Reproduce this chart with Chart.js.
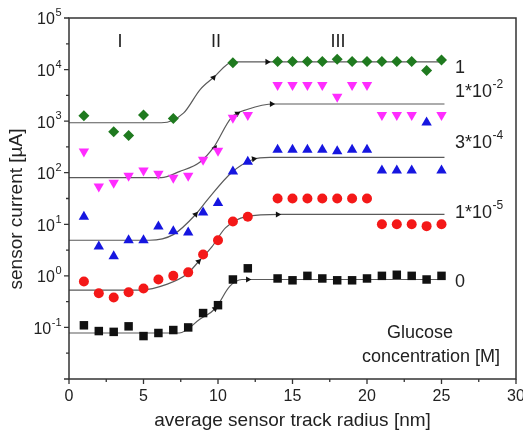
<!DOCTYPE html>
<html>
<head>
<meta charset="utf-8">
<script src="https://cdn.jsdelivr.net/npm/chart.js@4.4.1/dist/chart.umd.min.js"></script>
<style>
  body { margin: 0; background: #fff; }
  #c { display: block; }
</style>
</head>
<body>
<canvas id="c" width="523" height="434"></canvas>
<script>
// track radius [nm], one entry per measured point (13 was not measured)
var radius = [1, 2, 3, 4, 5, 6, 7, 8, 9, 10, 11, 12, 13, 14, 15, 16, 17, 18, 19, 20, 21, 22, 23, 24, 25];

// sensor current [uA] for each glucose concentration
var conc1 = [1270, null, 624, 525, 1320, null, 1120, null, null, null, 13500, null, null,
    14300, 14300, 14300, 14300, 15900, 14300, 14300, 14300, 14300, 14300, 9550, 15400];
var conc1e2 = [257, 54, 64, 87, 110, 95, 80, 87, 178, 267, 1170, 1320, null,
    5000, 5000, 5000, 5000, 2960, 5000, 5000, 1320, 1320, 1320, null, 1320];
var conc3e4 = [14, 3.7, 2.4, 4.9, 4.9, 9.1, 7.3, 6.9, 17, 26, 105, 163, null,
    280, 280, 280, 280, 260, 280, 280, 110, 110, 110, 940, 110];
var conc1e5 = [0.78, 0.46, 0.38, 0.48, 0.57, 0.85, 1.0, 1.17, 2.6, 4.9, 11.3, 14, null,
    31.6, 31.6, 31.6, 31.6, 31.6, 31.6, 31.6, 10, 10, 10, 9.2, 10];
var conc0 = [0.11, 0.085, 0.082, 0.105, 0.068, 0.078, 0.089, 0.10, 0.19, 0.27, 0.85, 1.4, null,
    0.89, 0.82, 1.0, 0.89, 0.82, 0.82, 0.89, 1.0, 1.05, 1.0, 0.85, 1.0];

// guide curves
var fit1X = [0, 6.2, 7.7, 8.8, 9.7, 11.0, 25.2];
var fit1Y = [930, 930, 1450, 4100, 7000, 14100, 14100];
var fit1e2X = [0, 6.2, 7.4, 8.8, 9.7, 10.9, 12.0, 13.8, 25.2];
var fit1e2Y = [80, 80, 105, 162, 309, 1175, 1700, 2150, 2150];
var fit3e4X = [0, 5.4, 7.0, 8.5, 9.3, 10.9, 12.3, 13.5, 25.2];
var fit3e4Y = [4.9, 4.9, 6.3, 15.5, 30, 100, 178, 198, 198];
var fit1e5X = [0, 4.8, 6.6, 7.9, 8.7, 9.6, 10.5, 11.9, 14.2, 25.2];
var fit1e5Y = [0.53, 0.53, 0.69, 1.07, 1.9, 3.7, 8.5, 14.1, 15.5, 15.5];
var fit0X = [0, 7.4, 8.8, 9.8, 10.8, 11.6, 25.2];
var fit0Y = [0.078, 0.078, 0.145, 0.23, 0.63, 0.85, 0.85];

// little arrow heads along the curves: x, y, direction in degrees
var arrowX = [9.7, 13.3, 9.8, 11.3, 13.6, 8.5, 12.4, 8.7, 14.0, 9.8, 12.0];
var arrowY = [7000, 14100, 300, 1400, 2150, 15.5, 185, 1.9, 15.5, 0.23, 0.85];
var arrowDir = [40, 90, 30, 60, 90, 40, 80, 45, 90, 50, 90];

var xTicks = [0, 5, 10, 15, 20, 25, 30];
var yExps = [5, 4, 3, 2, 1, 0, -1];

var concLabels = [
    {base: '1', exp: '', y: 68},
    {base: '1*10', exp: '-2', y: 92},
    {base: '3*10', exp: '-4', y: 143},
    {base: '1*10', exp: '-5', y: 213},
    {base: '0', exp: '', y: 282}
];

function pts(xs, ys) {
    var out = [];
    for (var i = 0; i < xs.length; i++) {
        if (ys[i] !== null) {
            out.push({x: xs[i], y: ys[i]});
        }
    }
    return out;
}

function markers(ys, style, color, r, rot) {
    return {
        data: pts(radius, ys),
        pointStyle: style,
        pointRadius: r,
        pointRotation: rot || 0,
        backgroundColor: color,
        borderColor: color,
        borderWidth: 0,
        showLine: false
    };
}

function fit(xs, ys) {
    return {
        type: 'line',
        data: pts(xs, ys),
        borderColor: '#5a5a5a',
        borderWidth: 1.2,
        pointRadius: 0,
        cubicInterpolationMode: 'monotone',
        fill: false
    };
}

var FONT = '"Liberation Sans", Arial, sans-serif';

function drawPow(ctx, base, exp, x, y, align, size, expSize) {
    ctx.font = size + 'px ' + FONT;
    var wb = ctx.measureText(base).width;
    ctx.font = expSize + 'px ' + FONT;
    var we = exp ? ctx.measureText(exp).width : 0;
    var left = align === 'right' ? x - wb - we : x;
    ctx.textAlign = 'left';
    ctx.textBaseline = 'middle';
    ctx.font = size + 'px ' + FONT;
    ctx.fillText(base, left, y);
    if (exp) {
        ctx.font = expSize + 'px ' + FONT;
        ctx.fillText(exp, left + wb + 0.5, y - size * 0.42);
    }
}

var framePlugin = {
    id: 'frame',
    afterDraw: function (chart) {
        var ctx = chart.ctx;
        var a = chart.chartArea;
        var xs = chart.scales.x;
        var ys = chart.scales.y;
        ctx.save();

        // box
        ctx.strokeStyle = '#333';
        ctx.lineWidth = 1.5;
        ctx.strokeRect(a.left, a.top, a.right - a.left, a.bottom - a.top);

        // x ticks
        ctx.lineWidth = 1.3;
        ctx.beginPath();
        for (var v = 0; v <= 30; v += 2.5) {
            var px = xs.getPixelForValue(v);
            var len = (v % 5 === 0) ? 5 : 3;
            ctx.moveTo(px, a.bottom);
            ctx.lineTo(px, a.bottom + len);
        }
        // y ticks
        for (var e = -2; e <= 5; e++) {
            var py = ys.getPixelForValue(Math.pow(10, e));
            ctx.moveTo(a.left, py);
            ctx.lineTo(a.left - 5, py);
            if (e < 5) {
                var pm = ys.getPixelForValue(Math.pow(10, e + 0.5));
                ctx.moveTo(a.left, pm);
                ctx.lineTo(a.left - 3, pm);
            }
        }
        ctx.stroke();

        ctx.fillStyle = '#222';
        ctx.textAlign = 'center';
        ctx.textBaseline = 'middle';
        ctx.font = '16px ' + FONT;
        xTicks.forEach(function (t) {
            ctx.fillText(String(t), xs.getPixelForValue(t), a.bottom + 18);
        });

        yExps.forEach(function (e) {
            drawPow(ctx, '10', String(e), a.left - 8, ys.getPixelForValue(Math.pow(10, e)) + 2, 'right', 16, 11);
        });

        // axis titles
        ctx.textAlign = 'center';
        ctx.font = '19px ' + FONT;
        ctx.fillText('average sensor track radius [nm]', (a.left + a.right) / 2, 421);
        ctx.save();
        ctx.translate(17, 209);
        ctx.rotate(-Math.PI / 2);
        ctx.fillText('sensor current [\u00b5A]', 0, 0);
        ctx.restore();

        // regions
        ctx.font = '18px ' + FONT;
        ctx.fillText('I', 120, 42);
        ctx.fillText('II', 216, 42);
        ctx.fillText('III', 338, 42);

        // concentrations
        concLabels.forEach(function (l) {
            drawPow(ctx, l.base, l.exp, 455, l.y, 'left', 18, 12);
        });

        ctx.textAlign = 'center';
        ctx.font = '18px ' + FONT;
        ctx.fillText('Glucose', 420, 333);
        ctx.fillText('concentration [M]', 431, 357);

        ctx.restore();
    }
};

var arrowPts = pts(arrowX, arrowY);

new Chart(document.getElementById('c').getContext('2d'), {
    type: 'scatter',
    data: {
        datasets: [
            markers(conc1, 'rectRot', '#1f7a1f', 5.5),
            markers(conc1e2, 'triangle', '#ff2cff', 6, 180),
            markers(conc3e4, 'triangle', '#1616e0', 6),
            markers(conc1e5, 'circle', '#f41818', 5),
            markers(conc0, 'rect', '#111111', 6),
            {
                data: arrowPts,
                pointStyle: 'triangle',
                pointRadius: 3.5,
                pointRotation: arrowDir,
                backgroundColor: '#111',
                borderWidth: 0,
                showLine: false
            },
            fit(fit1X, fit1Y),
            fit(fit1e2X, fit1e2Y),
            fit(fit3e4X, fit3e4Y),
            fit(fit1e5X, fit1e5Y),
            fit(fit0X, fit0Y)
        ]
    },
    options: {
        responsive: false,
        animation: false,
        layout: {padding: {top: 18, right: 7, left: 0, bottom: 0}},
        plugins: {legend: {display: false}, tooltip: {enabled: false}},
        scales: {
            x: {
                type: 'linear', min: 0, max: 30,
                grid: {display: false}, border: {display: false},
                ticks: {display: false},
                afterFit: function (s) { s.height = 55; }
            },
            y: {
                type: 'logarithmic', min: 0.01, max: 100000,
                grid: {display: false}, border: {display: false},
                ticks: {display: false},
                afterFit: function (s) { s.width = 69; }
            }
        }
    },
    plugins: [framePlugin]
});
</script>
</body>
</html>
